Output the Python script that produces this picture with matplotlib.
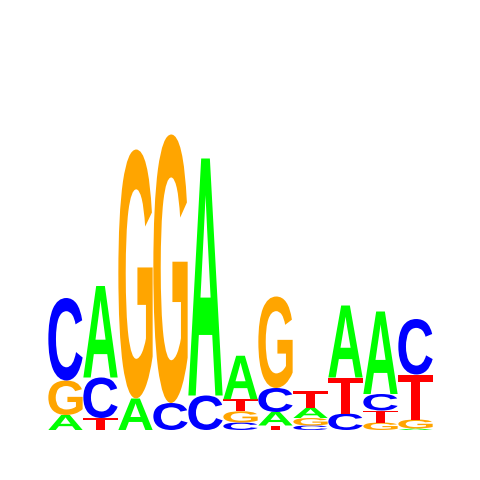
import matplotlib
matplotlib.use('Agg')
import matplotlib.pyplot as plt
from matplotlib.font_manager import FontProperties
from matplotlib.patches import PathPatch
from matplotlib.textpath import TextPath
from matplotlib.transforms import Affine2D

# information (bits) per base at each of the 11 positions
positions = list(range(1, 12))
A = [0.10, 0.61, 0.21, 0.00, 1.58, 0.29, 0.09, 0.07, 0.48, 0.55, 0.01]
C = [0.55, 0.27, 0.00, 0.18, 0.23, 0.05, 0.16, 0.03, 0.11, 0.11, 0.37]
G = [0.23, 0.00, 1.66, 1.79, 0.00, 0.075, 0.61, 0.05, 0.00, 0.05, 0.06]
T = [0.00, 0.08, 0.00, 0.00, 0.00, 0.08, 0.03, 0.11, 0.24, 0.08, 0.30]

COLORS = {'A': '#00ff00', 'C': '#0000ff', 'G': '#ffa500', 'T': '#ff0000'}
FONT = FontProperties(family='Liberation Sans', weight='bold')


def draw_letter(ax, letter, x, y, w, h):
    path = TextPath((0, 0), letter, size=1, prop=FONT)
    ext = path.get_extents()
    tr = (Affine2D()
          .translate(-ext.x0, -ext.y0)
          .scale(w / ext.width, h / ext.height)
          .translate(x, y))
    ax.add_patch(PathPatch(tr.transform_path(path), lw=0,
                           facecolor=COLORS[letter]))


fig = plt.figure(figsize=(4.8, 4.8), dpi=100)
ax = fig.add_axes([0, 0, 1, 1])

for i, pos in enumerate(positions):
    stack = sorted([('A', A[i]), ('C', C[i]), ('G', G[i]), ('T', T[i])],
                   key=lambda t: t[1])
    y = 0.0
    for letter, h in stack:
        if h <= 0:
            continue
        draw_letter(ax, letter, pos - 0.49, y, 0.98, h)
        y += h

ax.set_xlim(0.5 - 48 / 35, 0.5 + 432 / 35)
ax.set_ylim(-50 / 150, 430 / 150)
ax.axis('off')

fig.savefig('out.png', dpi=100)
